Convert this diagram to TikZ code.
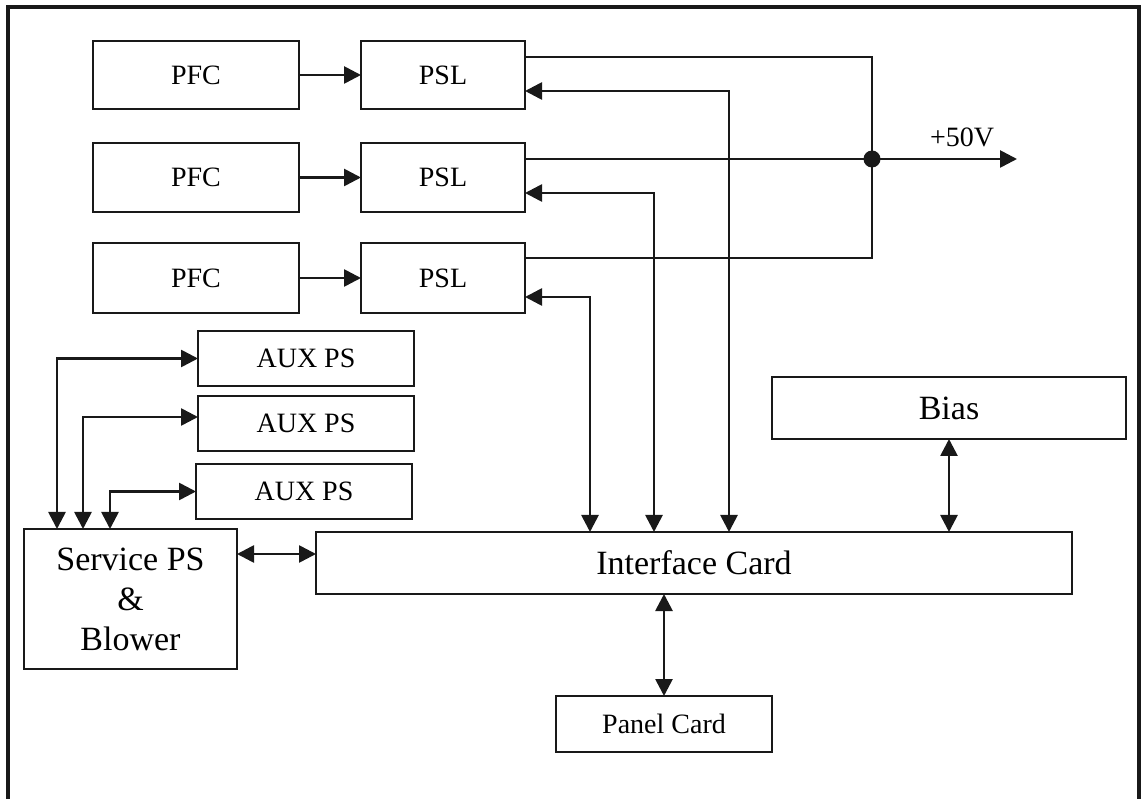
\documentclass[tikz,border=0pt]{standalone}
\usepackage{fontspec}
\setmainfont{Liberation Serif}
\usetikzlibrary{arrows.meta}
\begin{document}
\begin{tikzpicture}[x=1pt,y=-1pt,
  blk/.style={draw=black!90, line width=2.7pt, inner sep=0pt, outer sep=0pt, align=center, font=\fontsize{28}{34}\selectfont},
  bigblk/.style={blk, font=\fontsize{34}{40}\selectfont},
  wire/.style={draw=black!90, line width=2.7pt},
  arr/.style={wire, -{Triangle[length=17pt,width=17pt]}},
  both/.style={wire, {Triangle[length=17pt,width=17pt]}-{Triangle[length=17pt,width=17pt]}}]
\useasboundingbox (0,0) rectangle (1144,799);
% frame (open at bottom)
\draw[line width=3.2pt, black!90] (8,799) -- (8,7) -- (1139,7) -- (1139,799);
% PFC and PSL rows
\node[blk, minimum width=206pt, minimum height=68pt] (PFC1) at (196,75) {PFC};
\node[blk, minimum width=206pt, minimum height=69pt] (PFC2) at (196,177.5) {PFC};
\node[blk, minimum width=206pt, minimum height=70pt] (PFC3) at (196,278) {PFC};
\node[blk, minimum width=164pt, minimum height=68pt] (PSL1) at (443,75) {PSL};
\node[blk, minimum width=164pt, minimum height=69pt] (PSL2) at (443,177.5) {PSL};
\node[blk, minimum width=164pt, minimum height=70pt] (PSL3) at (443,278) {PSL};
% AUX PS
\node[blk, minimum width=216pt, minimum height=55pt] (AUX1) at (306,358.5) {AUX PS};
\node[blk, minimum width=216pt, minimum height=55pt] (AUX2) at (306,423.5) {AUX PS};
\node[blk, minimum width=216pt, minimum height=55pt] (AUX3) at (304,491.5) {AUX PS};
% Service PS, Interface, Bias, Panel
\node[bigblk, minimum width=213pt, minimum height=140pt] (SPS) at (130.5,599) {Service PS\\\&\\Blower};
\node[bigblk, minimum width=756pt, minimum height=62pt] (IC) at (694,563) {Interface Card};
\node[bigblk, minimum width=354pt, minimum height=62pt] (Bias) at (949,408) {Bias};
\node[blk, minimum width=216pt, minimum height=56pt] (Panel) at (664,724) {Panel Card};
% junction and output
\coordinate (J) at (872,159);
\coordinate (Out) at (1017,159);
\node[font=\fontsize{28}{34}\selectfont, inner sep=0pt] (V50) at (962,137) {+50V};
% PFC -> PSL
\draw[arr] (PFC1) -- (PSL1);
\draw[arr] (PFC2) -- (PSL2);
\draw[arr] (PFC3) -- (PSL3);
% PSL outputs to bus
\draw[wire] ([yshift=18pt]PSL1.east) -| (J);
\draw[wire] (J -| PSL2.east) -- (J);
\draw[wire] ([yshift=20pt]PSL3.east) -| (J);
\fill[black!90] (J) circle (8.5pt);
\draw[arr] (J) -- (Out);
% returns from interface card to PSL
\draw[both] ([yshift=-16pt]PSL1.east) -| ([xshift=35pt]IC.north);
\draw[both] ([yshift=-15.5pt]PSL2.east) -| ([xshift=-40pt]IC.north);
\draw[both] ([yshift=-19pt]PSL3.east) -| ([xshift=-104pt]IC.north);
% AUX links
\draw[both] (AUX1.west) -| ([xshift=-73.5pt]SPS.north);
\draw[both] ([yshift=6.5pt]AUX2.west) -| ([xshift=-47.5pt]SPS.north);
\draw[both] (AUX3.west) -| ([xshift=-20.5pt]SPS.north);
% other links
\draw[both] ([yshift=45pt]SPS.east) -- ([yshift=9pt]IC.west);
\draw[both] (Bias.south) -- (Bias.south |- IC.north);
\draw[both] (IC.south -| Panel.north) -- (Panel.north);
\end{tikzpicture}
\end{document}
